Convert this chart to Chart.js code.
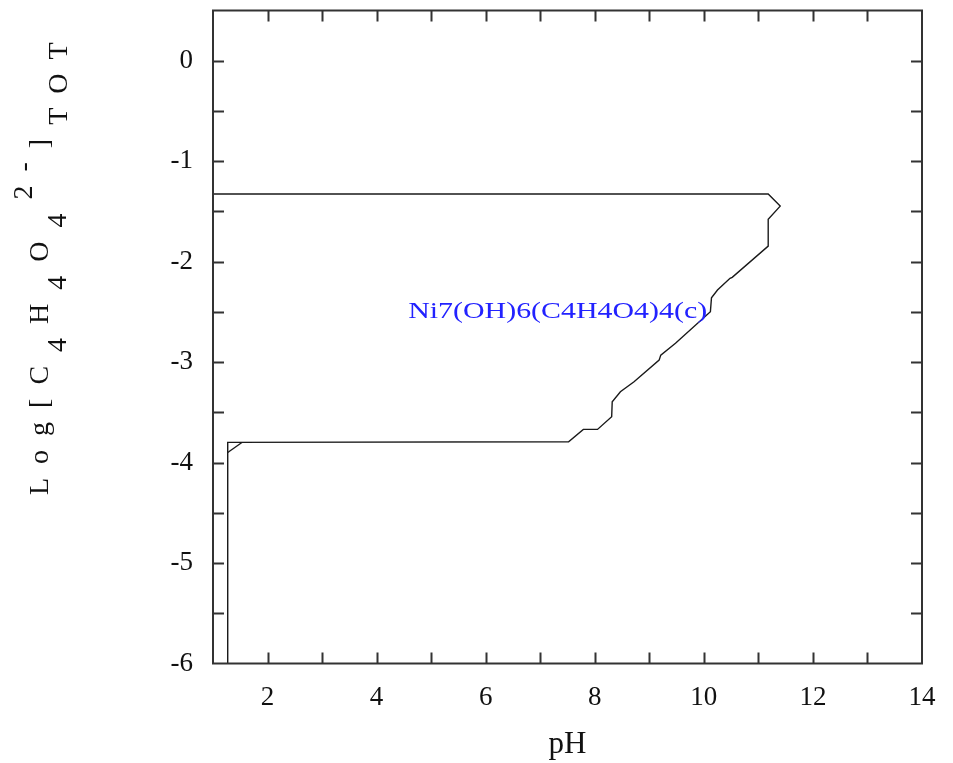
<!DOCTYPE html>
<html>
<head>
<meta charset="utf-8">
<script src="https://cdn.jsdelivr.net/npm/chart.js@4.4.1/dist/chart.umd.min.js"></script>
<style>
  html, body { margin: 0; padding: 0; background: #fff; }
  #wrap { width: 953px; height: 763px; }
</style>
</head>
<body>
<div id="wrap"><canvas id="diagram" width="953" height="763"></canvas></div>
<script>
// Predominance boundary for Ni7(OH)6(C4H4O4)4(c)
const boundaryPH   = [1.00, 11.18, 11.40, 11.18, 11.18, 10.52, 10.48, 10.25, 10.14, 10.12, 9.48, 9.21, 9.18, 8.72, 8.47, 8.32, 8.31, 8.05, 7.79, 7.52, 1.27, 1.27];
const boundaryLogC = [-1.327, -1.327, -1.447, -1.579, -1.845, -2.156, -2.166, -2.283, -2.359, -2.499, -2.813, -2.930, -2.980, -3.196, -3.295, -3.395, -3.544, -3.670, -3.670, -3.793, -3.799, -6.00];

// little corner segment bottom-left
const cornerPH   = [1.53, 1.27];
const cornerLogC = [-3.80, -3.90];

const xLabelValues = [2, 4, 6, 8, 10, 12, 14];
const yLabelValues = [0, -1, -2, -3, -4, -5, -6];

const speciesLabel = 'Ni7(OH)6(C4H4O4)4(c)';
const speciesPH = 7.32;
const speciesLogC = -2.5;

const SERIF = '"Liberation Serif", "DejaVu Serif", serif';

function toPoints(xs, ys) {
    return xs.map((x, i) => ({ x, y: ys[i] }));
}

// frame, inward ticks, species label and the y title
const decorations = {
    id: 'decorations',
    afterDraw(chart) {
        const ctx = chart.ctx;
        const { left, right, top, bottom } = chart.chartArea;
        const xs = chart.scales.x, ys = chart.scales.y;
        const tick = 11;

        ctx.save();
        ctx.strokeStyle = '#333';
        ctx.lineWidth = 2;
        ctx.strokeRect(left, top, right - left, bottom - top);

        ctx.beginPath();
        xs.ticks.forEach(t => {
            if (t.value <= xs.min || t.value >= xs.max) return;
            const px = Math.round(xs.getPixelForValue(t.value)) + 0.5;
            ctx.moveTo(px, bottom); ctx.lineTo(px, bottom - tick);
            ctx.moveTo(px, top); ctx.lineTo(px, top + tick);
        });
        ys.ticks.forEach(t => {
            if (t.value <= ys.min || t.value >= ys.max) return;
            const py = Math.round(ys.getPixelForValue(t.value)) + 0.5;
            ctx.moveTo(left, py); ctx.lineTo(left + tick, py);
            ctx.moveTo(right, py); ctx.lineTo(right - tick, py);
        });
        ctx.stroke();

        // species name, drawn a bit wide like the original
        const lx = xs.getPixelForValue(speciesPH);
        const ly = ys.getPixelForValue(speciesLogC);
        ctx.fillStyle = '#2222ff';
        ctx.font = '23px ' + SERIF;
        ctx.textAlign = 'center';
        ctx.textBaseline = 'middle';
        ctx.translate(lx, ly);
        ctx.scale(1.3, 1);
        ctx.fillText(speciesLabel, 0, 0);
        ctx.restore();

        // y title: Log [C4H4O4 2-]TOT with sub/superscripts
        const pieces = [
            ['L', 0], ['o', 0], ['g', 0], ['[', 0], ['C', 0], ['4', 18],
            ['H', 0], ['4', 18], ['O', 0], ['4', 18], ['2', -16], ['-', -16],
            [']', 0], ['T', 19], ['O', 19], ['T', 19],
        ];
        ctx.save();
        ctx.fillStyle = '#111';
        ctx.font = '28px ' + SERIF;
        ctx.textAlign = 'left';
        ctx.textBaseline = 'alphabetic';
        ctx.translate(48, 495);
        ctx.rotate(-Math.PI / 2);
        let cursor = 0;
        pieces.forEach(([ch, shift]) => {
            ctx.fillText(ch, cursor, shift);
            cursor += ctx.measureText(ch).width + 14;
        });
        ctx.restore();
    },
};

new Chart(document.getElementById('diagram'), {
    type: 'scatter',
    data: {
        datasets: [
            {
                data: toPoints(boundaryPH, boundaryLogC),
                showLine: true,
                borderColor: '#1a1a1a',
                borderWidth: 1.4,
                pointRadius: 0,
                tension: 0,
            },
            {
                data: toPoints(cornerPH, cornerLogC),
                showLine: true,
                borderColor: '#1a1a1a',
                borderWidth: 1.4,
                pointRadius: 0,
            },
        ],
    },
    options: {
        responsive: false,
        animation: false,
        events: [],
        layout: { padding: { top: 10.5, right: 31, left: 0, bottom: 0 } },
        plugins: {
            legend: { display: false },
            tooltip: { enabled: false },
        },
        scales: {
            x: {
                type: 'linear',
                min: 1,
                max: 14,
                grid: { display: false, drawTicks: false },
                border: { display: false },
                ticks: {
                    stepSize: 1,
                    autoSkip: false,
                    maxRotation: 0,
                    padding: 18,
                    color: '#111',
                    font: { family: SERIF, size: 27 },
                    callback: v => xLabelValues.includes(v) ? String(v) : '',
                },
                title: {
                    display: true,
                    text: 'pH',
                    color: '#111',
                    font: { family: SERIF, size: 31 },
                    padding: { top: 0, bottom: 0 },
                },
                afterFit: s => {
                    s.height = 99.5;
                    s.paddingLeft = 0; s.paddingRight = 0;
                },
            },
            y: {
                type: 'linear',
                min: -6,
                max: 0.5,
                grid: { display: false, drawTicks: false },
                border: { display: false },
                ticks: {
                    stepSize: 0.5,
                    autoSkip: false,
                    padding: 20,
                    color: '#111',
                    font: { family: SERIF, size: 27 },
                    callback: v => yLabelValues.includes(v) ? String(v) : '',
                },
                afterFit: s => {
                    s.width = 213;
                    s.paddingTop = 0; s.paddingBottom = 0;
                },
            },
        },
    },
    plugins: [decorations],
});
</script>
</body>
</html>
